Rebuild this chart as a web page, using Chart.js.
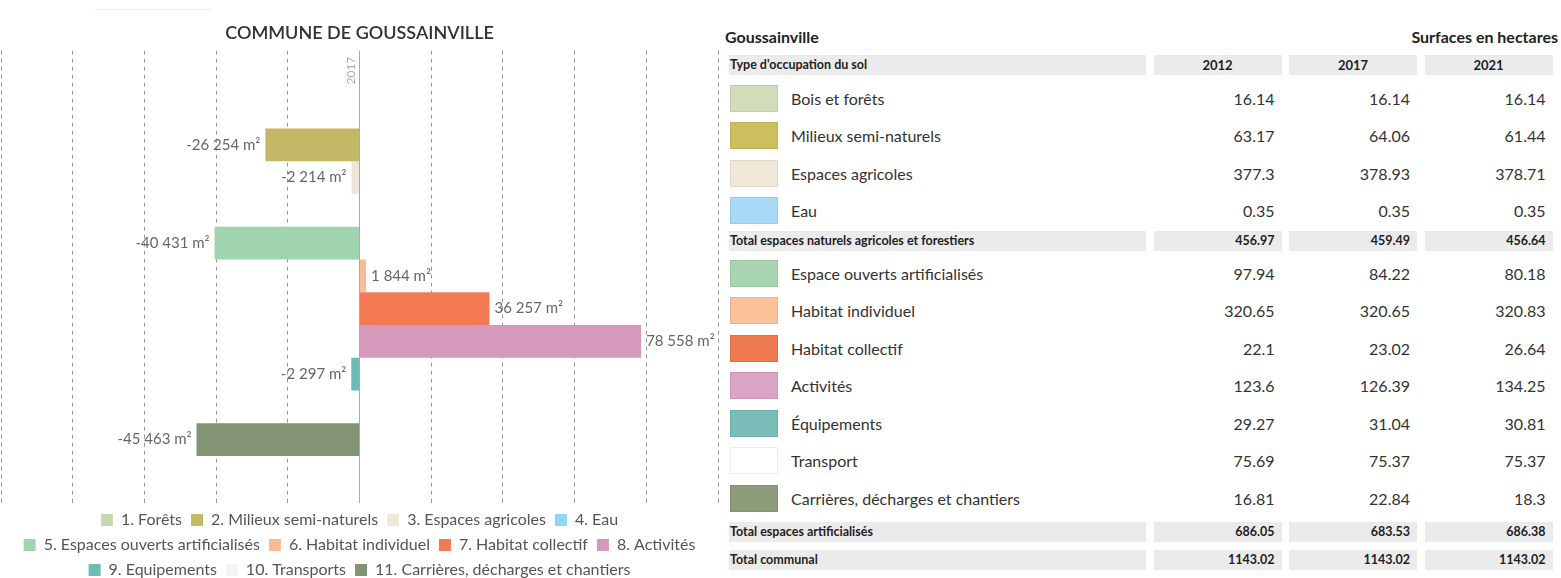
<!DOCTYPE html>
<html lang="fr">
<head>
<meta charset="utf-8">
<title>Commune de Goussainville</title>
<script src="https://cdn.jsdelivr.net/npm/chart.js@4.4.1/dist/chart.umd.min.js"></script>
<style>
  html, body { margin: 0; padding: 0; background: #fff; overflow: hidden; }
  body { width: 1561px; height: 578px; position: relative; font-family: Lato, "Noto Sans", sans-serif; color: #333; }
  #chartBox { position: absolute; left: 0; top: 0; width: 720px; height: 588px; }
  #topLine { position: absolute; left: 95px; top: 9px; width: 116px; height: 1px; background: #ececec; }
  #tblTitle { position: absolute; left: 725px; top: 27px; font-weight: 700; font-size: 16px; line-height: 20px; color: #222; }
  #tblUnit { position: absolute; right: 3px; top: 27px; font-weight: 700; font-size: 16px; line-height: 20px; color: #222; }
  #table { position: absolute; left: 729px; top: 55px; width: 824px; }
  .row { display: grid; grid-template-columns: 417px 128px 128px 128px; column-gap: 7.5px; }
  .hrow { height: 20px; }
  .hrow > div { background: #ebebeb; font-weight: 700; font-size: 12.5px; line-height: 20px; color: #1e1e1e; }
  .hrow > div:first-child { padding-left: 1px; }
  .hrow > div.num { text-align: right; padding-right: 7px; }
  .hrow > div.year { text-align: center; font-size: 13px; }
  .drow { height: 37.5px; }
  .drow > div { font-size: 16px; line-height: 37.5px; color: #333; }
  .drow > div.num { text-align: right; padding-right: 7px; }
  .drow .lab { display: flex; align-items: center; }
  .sw { width: 48px; height: 27px; margin-left: 1px; box-sizing: border-box; border: 1px solid rgba(0,0,0,0.07); }
  .lab span { margin-left: 13px; }
</style>
</head>
<body>
<div id="topLine"></div>
<div id="chartBox"><canvas id="chart"></canvas></div>
<div id="tblTitle">Goussainville</div>
<div id="tblUnit">Surfaces en hectares</div>
<div id="table"></div>

<script>
// chart data: change of surface 2017 -> 2021, in m2
const categories = [
  '1. Forêts', '2. Milieux semi-naturels', '3. Espaces agricoles', '4. Eau',
  '5. Espaces ouverts artificialisés', '6. Habitat individuel', '7. Habitat collectif', '8. Activités',
  '9. Equipements', '10. Transports', '11. Carrières, décharges et chantiers'
];
const changeM2 = [0, -26254, -2214, 0, -40431, 1844, 36257, 78558, -2297, 0, -45463];
const barColors = ['#c8d8b4', '#c2b866', '#ede7d9', '#92d5f5', '#9fd4ae', '#f9bb96', '#f47a56', '#d599bb', '#6cbbb6', '#f4f4f4', '#839474'];
const yearLabel = '2017';
const xMin = -100000, xMax = 100000, xStep = 20000;

// table data, surfaces in hectares
const years = ['2012', '2017', '2021'];
const rowLabels = [
  'Bois et forêts', 'Milieux semi-naturels', 'Espaces agricoles', 'Eau',
  'Espace ouverts artificialisés', 'Habitat individuel', 'Habitat collectif', 'Activités',
  'Équipements', 'Transport', 'Carrières, décharges et chantiers'
];
const swatchColors = ['#d1dcb9', '#cdbf5e', '#efe8d8', '#a6daf6', '#a8d5af', '#fac19b', '#f07a50', '#dba3c4', '#79bcb8', '#ffffff', '#8e9b7a'];
const surf2012 = [16.14, 63.17, 377.3, 0.35, 97.94, 320.65, 22.1, 123.6, 29.27, 75.69, 16.81];
const surf2017 = [16.14, 64.06, 378.93, 0.35, 84.22, 320.65, 23.02, 126.39, 31.04, 75.37, 22.84];
const surf2021 = [16.14, 61.44, 378.71, 0.35, 80.18, 320.83, 26.64, 134.25, 30.81, 75.37, 18.3];
const totalNaturels = [456.97, 459.49, 456.64];
const totalArtificialises = [686.05, 683.53, 686.38];
const totalCommunal = [1143.02, 1143.02, 1143.02];

function fmtM2(v) {
  const s = String(Math.abs(v)).replace(/\B(?=(\d{3})+(?!\d))/g, ' ');
  return (v < 0 ? '-' : '') + s + ' m²';
}

// value labels at the end of each bar
const valueLabels = {
  id: 'valueLabels',
  afterDatasetsDraw(chart) {
    const ctx = chart.ctx;
    ctx.save();
    ctx.font = '15px Lato';
    ctx.fillStyle = '#666';
    ctx.textBaseline = 'middle';
    chart.data.datasets.forEach((ds, i) => {
      const v = ds.data[0];
      if (!v) return;
      const bar = chart.getDatasetMeta(i).data[0];
      ctx.textAlign = v < 0 ? 'right' : 'left';
      ctx.fillText(fmtM2(v), bar.x + (v < 0 ? -5 : 5), bar.y);
    });
    ctx.restore();
  }
};

// rotated year next to the zero line
const yearMark = {
  id: 'yearMark',
  afterDraw(chart) {
    const ctx = chart.ctx;
    const x0 = chart.scales.x.getPixelForValue(0);
    ctx.save();
    ctx.translate(x0 - 8, chart.chartArea.top + 20);
    ctx.rotate(-Math.PI / 2);
    ctx.font = '12px Lato';
    ctx.fillStyle = '#aaa';
    ctx.textAlign = 'center';
    ctx.textBaseline = 'middle';
    ctx.fillText(yearLabel, 0, 0);
    ctx.restore();
  }
};

new Chart(document.getElementById('chart'), {
  type: 'bar',
  data: {
    labels: [yearLabel],
    datasets: categories.map((c, i) => ({
      label: c,
      data: [changeM2[i]],
      backgroundColor: barColors[i],
      borderWidth: 0,
      categoryPercentage: 0.8,
      barPercentage: 1
    }))
  },
  options: {
    indexAxis: 'y',
    responsive: true,
    maintainAspectRatio: false,
    animation: false,
    layout: { padding: { left: 1, right: 2 } },
    scales: {
      x: {
        min: xMin,
        max: xMax,
        ticks: { display: false, stepSize: xStep },
        grid: {
          drawTicks: true,
          tickLength: 2,
          color: c => (c.tick && c.tick.value === 0) ? '#aaa' : '#999'
        },
        border: {
          display: false,
          dash: c => (c.tick && c.tick.value === 0) ? [] : [4, 4]
        }
      },
      y: { display: false }
    },
    plugins: {
      title: {
        display: true,
        text: 'COMMUNE DE GOUSSAINVILLE',
        color: '#333',
        font: { family: 'Lato', size: 18, weight: '600' },
        padding: { top: 22, bottom: 7 }
      },
      legend: {
        position: 'bottom',
        labels: {
          boxWidth: 12,
          boxHeight: 12,
          padding: 9,
          color: '#555',
          font: { family: 'Lato', size: 16 }
        }
      },
      tooltip: { enabled: false }
    }
  },
  plugins: [valueLabels, yearMark]
});

// table on the right
const table = document.getElementById('table');
function addRow(cls, cells, mt) {
  const r = document.createElement('div');
  r.className = 'row ' + cls;
  if (mt) r.style.marginTop = mt + 'px';
  cells.forEach(c => {
    const d = document.createElement('div');
    if (c.cls) d.className = c.cls;
    if (c.html !== undefined) d.innerHTML = c.html; else d.textContent = c.text;
    r.appendChild(d);
  });
  table.appendChild(r);
}
function dataRow(i, mt) {
  addRow('drow', [
    { cls: 'lab', html: '<div class="sw" style="background:' + swatchColors[i] + '"></div><span>' + rowLabels[i] + '</span>' },
    { cls: 'num', text: String(surf2012[i]) },
    { cls: 'num', text: String(surf2017[i]) },
    { cls: 'num', text: String(surf2021[i]) }
  ], mt);
}
function totalRow(label, vals, mt) {
  addRow('hrow', [{ text: label }].concat(vals.map(v => ({ cls: 'num', text: String(v) }))), mt);
}

addRow('hrow', [{ text: "Type d'occupation du sol" }].concat(years.map(y => ({ cls: 'year', text: y }))));
for (let i = 0; i < 4; i++) dataRow(i, i === 0 ? 4.5 : 0);
totalRow('Total espaces naturels agricoles et forestiers', totalNaturels, 1.5);
for (let i = 4; i < 11; i++) dataRow(i, i === 4 ? 3.5 : 0);
totalRow('Total espaces artificialisés', totalArtificialises, 5);
totalRow('Total communal', totalCommunal, 8);
</script>
</body>
</html>
